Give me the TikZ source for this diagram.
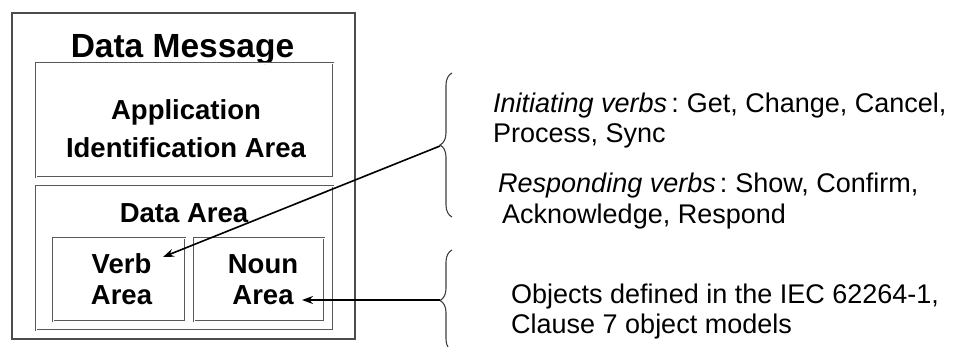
\documentclass[tikz,border=0pt]{standalone}
\usepackage{fontspec}
\setmainfont{Liberation Sans}
\usetikzlibrary{arrows.meta,decorations.pathreplacing}
\begin{document}
\begin{tikzpicture}[x=1pt,y=-1pt,
  outerbox/.style={draw=black!70, line width=1.4pt, inner sep=0pt},
  innerbox/.style={draw=black!65, line width=0.7pt, double=white, double distance=0.9pt, inner sep=0pt},
  title/.style={font=\bfseries\fontsize{33.5}{36}\selectfont, inner sep=0pt},
  boldlbl/.style={font=\bfseries\fontsize{27.5}{31}\selectfont, align=center, inner sep=0pt},
  desc/.style={font=\fontsize{27}{31}\selectfont, anchor=base west, inner sep=0pt},
  bracepath/.style={draw=black!75, line width=1.1pt, decorate, decoration={brace, amplitude=12pt}},
  conn/.style={draw=black, line width=1.6pt, -{Stealth[length=11pt,width=8pt]}}
]
\useasboundingbox (0,0) rectangle (956,346);
\clip (0,0) rectangle (956,346);
\fill[white] (0,0) rectangle (956,346);

% boxes
\node[outerbox, minimum width=343pt, minimum height=326pt] (msg) at (183.5,176) {};
\node[title, anchor=base] (msgtitle) at (182.5,57) {Data Message};

\node[innerbox, minimum width=297pt, minimum height=114pt] (app) at (184.5,120) {};
\node[boldlbl, font=\bfseries\fontsize{27.5}{38}\selectfont, anchor=base] (apptext) at (186,157) {Application\\Identification Area};

\node[innerbox, minimum width=297pt, minimum height=144pt] (data) at (184.5,258) {};
\node[boldlbl, anchor=base] (datatext) at (184,222) {Data Area};

\node[innerbox, minimum width=132pt, minimum height=83pt, font=\bfseries\fontsize{27.5}{31}\selectfont, align=center] (verb) at (119,279.5) {\hspace*{5pt}Verb\\\hspace*{5pt}Area};
\node[innerbox, minimum width=130pt, minimum height=83pt, font=\bfseries\fontsize{27.5}{31}\selectfont, align=center] (noun) at (259,279.5) {\hspace*{8pt}Noun\\\hspace*{8pt}Area};

% descriptions
\node[desc] (init1) at (493,112) {\textit{Initiating verbs}\hspace{4pt}:\hspace{-2pt} Get, Change, Cancel,};
\node[desc] (init2) at (493,142) {Process, Sync};
\node[desc] (resp1) at (498,192) {\textit{Responding verbs}\hspace{4pt}:\hspace{-2pt} Show, Confirm,};
\node[desc] (resp2) at (502,223) {Acknowledge, Respond};
\node[desc] (obj1) at (511,303) {Objects defined in the IEC 62264-1,};
\node[desc] (obj2) at (511,333) {Clause 7 object models};

% braces
\draw[bracepath] (452,217) -- (452,73);
\draw[bracepath] (452,351) -- (452,250);
\coordinate (tip1) at (440,146);
\coordinate (tip2) at (440,300);
\coordinate (verbin) at (163,257);
\coordinate (nounin) at (302,300);

% connectors
\draw[conn] (tip1) -- (verbin);
\draw[conn] (tip2) -- (nounin);
\end{tikzpicture}
\end{document}
